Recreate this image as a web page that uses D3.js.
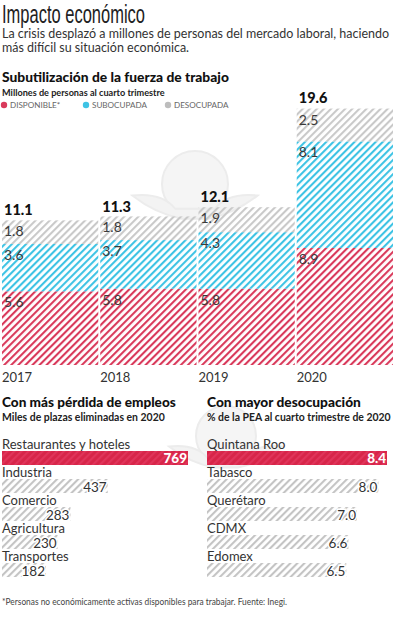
<!DOCTYPE html>
<html>
<head>
<meta charset="utf-8">
<script src="https://cdn.jsdelivr.net/npm/d3@7"></script>
<style>
  body { margin: 0; background: #fff; }
  svg { display: block; font-family: Lato, 'Open Sans', sans-serif; }
</style>
</head>
<body>
<div id="chart"></div>
<script>
// stacked chart data
const years = ['2017', '2018', '2019', '2020']
const disponible = [5.6, 5.8, 5.8, 8.9]
const subocupada = [3.6, 3.7, 4.3, 8.1]
const desocupada = [1.8, 1.8, 1.9, 2.5]
const totals = [11.1, 11.3, 12.1, 19.6]
const seriesNames = ['DISPONIBLE*', 'SUBOCUPADA', 'DESOCUPADA']

// job losses
const sectors = ['Restaurantes y hoteles', 'Industria', 'Comercio', 'Agricultura', 'Transportes']
const lostJobs = [769, 437, 283, 230, 182]

// unemployment by state
const states = ['Quintana Roo', 'Tabasco', 'Querétaro', 'CDMX', 'Edomex']
const unemployment = [8.4, 8.0, 7.0, 6.6, 6.5]

const w = 394, h = 620
const colors = ['#d93a5b', '#3ec3e4', '#c9c9c9']
const txt = '#333'

const svg = d3.select('#chart').append('svg')
  .attr('width', w).attr('height', h)

// scale a text's font size so it spans the given width, returns the size
function fit (sel, width) {
  let size = parseFloat(sel.style('font-size'))
  let len = sel.node().getComputedTextLength()
  let s = size * width / len
  sel.style('font-size', s + 'px')
  return s
}

// hatch patterns (transparent gaps so the watermark shows through)
const defs = svg.append('defs')
function hatch (id, color, bg) {
  let p = defs.append('pattern')
    .attr('id', id)
    .attr('patternUnits', 'userSpaceOnUse')
    .attr('width', 5).attr('height', 5)
    .attr('patternTransform', 'rotate(45)')
  if (bg) p.append('rect').attr('width', 5).attr('height', 5).attr('fill', bg)
  p.append('rect').attr('x', 0).attr('width', 2.1).attr('height', 5).attr('fill', color)
}
hatch('h0', colors[0])
hatch('h1', colors[1])
hatch('h2', colors[2])
hatch('hg', '#c4c4c4')
hatch('hr', '#e0345a', '#d72549')

// watermark (faint logo)
function watermark (cx, cy, r) {
  let g = svg.append('g').attr('fill', 'none').attr('stroke', '#ececec').attr('stroke-width', 2)
  g.append('circle').attr('cx', cx).attr('cy', cy).attr('r', r).attr('fill', '#f5f5f5')
  g.append('path')
    .attr('d', `M${cx - r * 1.9},${cy + r * 0.35} Q${cx - r},${cy + r * 0.25} ${cx - r * 0.6},${cy + r * 0.75} L${cx + r * 0.6},${cy + r * 0.75} Q${cx + r},${cy + r * 0.25} ${cx + r * 1.9},${cy + r * 0.35} Q${cx + r * 1.2},${cy + r * 0.9} ${cx + r * 0.4},${cy + r * 1.05} L${cx - r * 0.4},${cy + r * 1.05} Q${cx - r * 1.2},${cy + r * 0.9} ${cx - r * 1.9},${cy + r * 0.35}Z`)
    .attr('fill', '#f3f3f3')
}
watermark(195, 184, 33)
watermark(226, 436, 30)

// header
svg.append('text').attr('x', 2).attr('y', 23)
  .attr('textLength', 143).attr('lengthAdjust', 'spacingAndGlyphs')
  .style('font-family', "'Liberation Sans', Arial, sans-serif")
  .style('font-size', '25px').attr('fill', '#222')
  .text('Impacto económico')
let lead = svg.append('text').attr('x', 2).attr('y', 38)
  .style('font-size', '12.4px').attr('fill', txt)
  .text('La crisis desplazó a millones de personas del mercado laboral, haciendo')
let leadSize = fit(lead, 387)
svg.append('text').attr('x', 2).attr('y', 52)
  .style('font-size', leadSize + 'px').attr('fill', txt)
  .text('más difícil su situación económica.')

fit(svg.append('text').attr('x', 2).attr('y', 82)
  .style('font-size', '14px').style('font-weight', 900).attr('fill', '#111')
  .text('Subutilización de la fuerza de trabajo'), 227)
fit(svg.append('text').attr('x', 2).attr('y', 96)
  .style('font-size', '11px').style('font-weight', 700).attr('fill', '#222')
  .text('Millones de personas al cuarto trimestre'), 163)

// legend
const legendX = [4, 86, 168]
const legend = svg.append('g').selectAll('g')
  .data(seriesNames).enter().append('g')
  .attr('transform', (d, i) => `translate(${legendX[i]},105)`)
legend.append('circle').attr('cx', 0).attr('cy', 0).attr('r', 3.2)
  .attr('fill', (d, i) => i === 2 ? '#bdbdbd' : colors[i])
let legText = legend.append('text').attr('x', 6).attr('y', 3.4)
  .style('font-size', '9px').attr('fill', '#666')
  .text(d => d)
let legSize = fit(d3.select(legText.nodes()[1]), 55)
legText.style('font-size', legSize + 'px')

// stacked columns
const x = d3.scaleBand().domain(years).range([2, 393]).paddingInner(0.02)
const y = d3.scaleLinear().domain([0, 20]).range([365, 102])

const rows = years.map((yr, i) => ({ year: yr, disponible: disponible[i], subocupada: subocupada[i], desocupada: desocupada[i], total: totals[i] }))
const stack = d3.stack().keys(['disponible', 'subocupada', 'desocupada'])(rows)

const cols = svg.append('g')
stack.forEach((layer, k) => {
  let g = cols.append('g')
  g.selectAll('rect').data(layer).enter().append('rect')
    .attr('x', d => x(d.data.year))
    .attr('y', d => y(d[1]))
    .attr('width', x.bandwidth())
    .attr('height', d => y(d[0]) - y(d[1]))
    .attr('fill', `url(#h${k})`)
  g.selectAll('text').data(layer).enter().append('text')
    .attr('x', d => x(d.data.year) + 2)
    .attr('y', d => y(d[1]) + 16)
    .style('font-size', '14px').attr('fill', '#3a3a3a')
    .text(d => d3.format('.1f')(d[1] - d[0]))
})

svg.append('g').selectAll('text').data(rows).enter().append('text')
  .attr('x', d => x(d.year) + 2)
  .attr('y', d => y(d.total) - 4)
  .style('font-size', '14.5px').style('font-weight', 900).attr('fill', '#111')
  .text(d => d3.format('.1f')(d.total))

svg.append('g').selectAll('text').data(years).enter().append('text')
  .attr('x', d => x(d))
  .attr('y', 382)
  .style('font-size', '13px').attr('fill', txt)
  .text(d => d)

// horizontal bar charts
let subSize = 11
function barChart (left, right, title, sub, cats, vals, fmt, titleW, subW) {
  let g = svg.append('g')
  fit(g.append('text').attr('x', left).attr('y', 407)
    .style('font-size', '13.5px').style('font-weight', 900).attr('fill', '#111')
    .text(title), titleW)
  let st = g.append('text').attr('x', left).attr('y', 421)
    .style('font-size', '11px').style('font-weight', 700).attr('fill', '#222')
    .text(sub)
  if (subW) subSize = fit(st, subW)
  else st.style('font-size', subSize + 'px')
  let xs = d3.scaleLinear().domain([0, d3.max(vals)]).range([left, right])
  let band = d3.scaleBand().domain(cats).range([436, 576])
  let item = g.selectAll('g.item').data(cats).enter().append('g')
    .attr('class', 'item')
    .attr('transform', d => `translate(0,${band(d)})`)
  item.append('text').attr('x', left).attr('y', 13)
    .style('font-size', '13px').attr('fill', txt)
    .text(d => d)
  item.append('rect').attr('x', left).attr('y', 15)
    .attr('width', (d, i) => xs(vals[i]) - left)
    .attr('height', 14)
    .attr('fill', (d, i) => i === 0 ? 'url(#hr)' : 'url(#hg)')
  item.append('text')
    .attr('x', (d, i) => xs(vals[i]) - 1)
    .attr('y', (d, i) => i === 0 ? 27 : 28)
    .attr('text-anchor', 'end')
    .style('font-size', '13.5px')
    .style('font-weight', (d, i) => i === 0 ? 900 : 400)
    .attr('fill', (d, i) => i === 0 ? '#fff' : txt)
    .attr('stroke', (d, i) => i === 0 ? 'none' : '#fff')
    .attr('stroke-width', 3)
    .style('paint-order', 'stroke')
    .text((d, i) => fmt(vals[i]))
}
barChart(2, 188, 'Con más pérdida de empleos', 'Miles de plazas eliminadas en 2020', sectors, lostJobs, d3.format('d'), 174, 163)
barChart(207, 387, 'Con mayor desocupación', '% de la PEA al cuarto trimestre de 2020', states, unemployment, d3.format('.1f'), 154, 0)

// footnote
svg.append('text').attr('x', 2).attr('y', 605)
  .attr('textLength', 285).attr('lengthAdjust', 'spacingAndGlyphs')
  .style('font-size', '9px').attr('fill', '#444')
  .text('*Personas no económicamente activas disponibles para trabajar. Fuente: Inegi.')
</script>
</body>
</html>
